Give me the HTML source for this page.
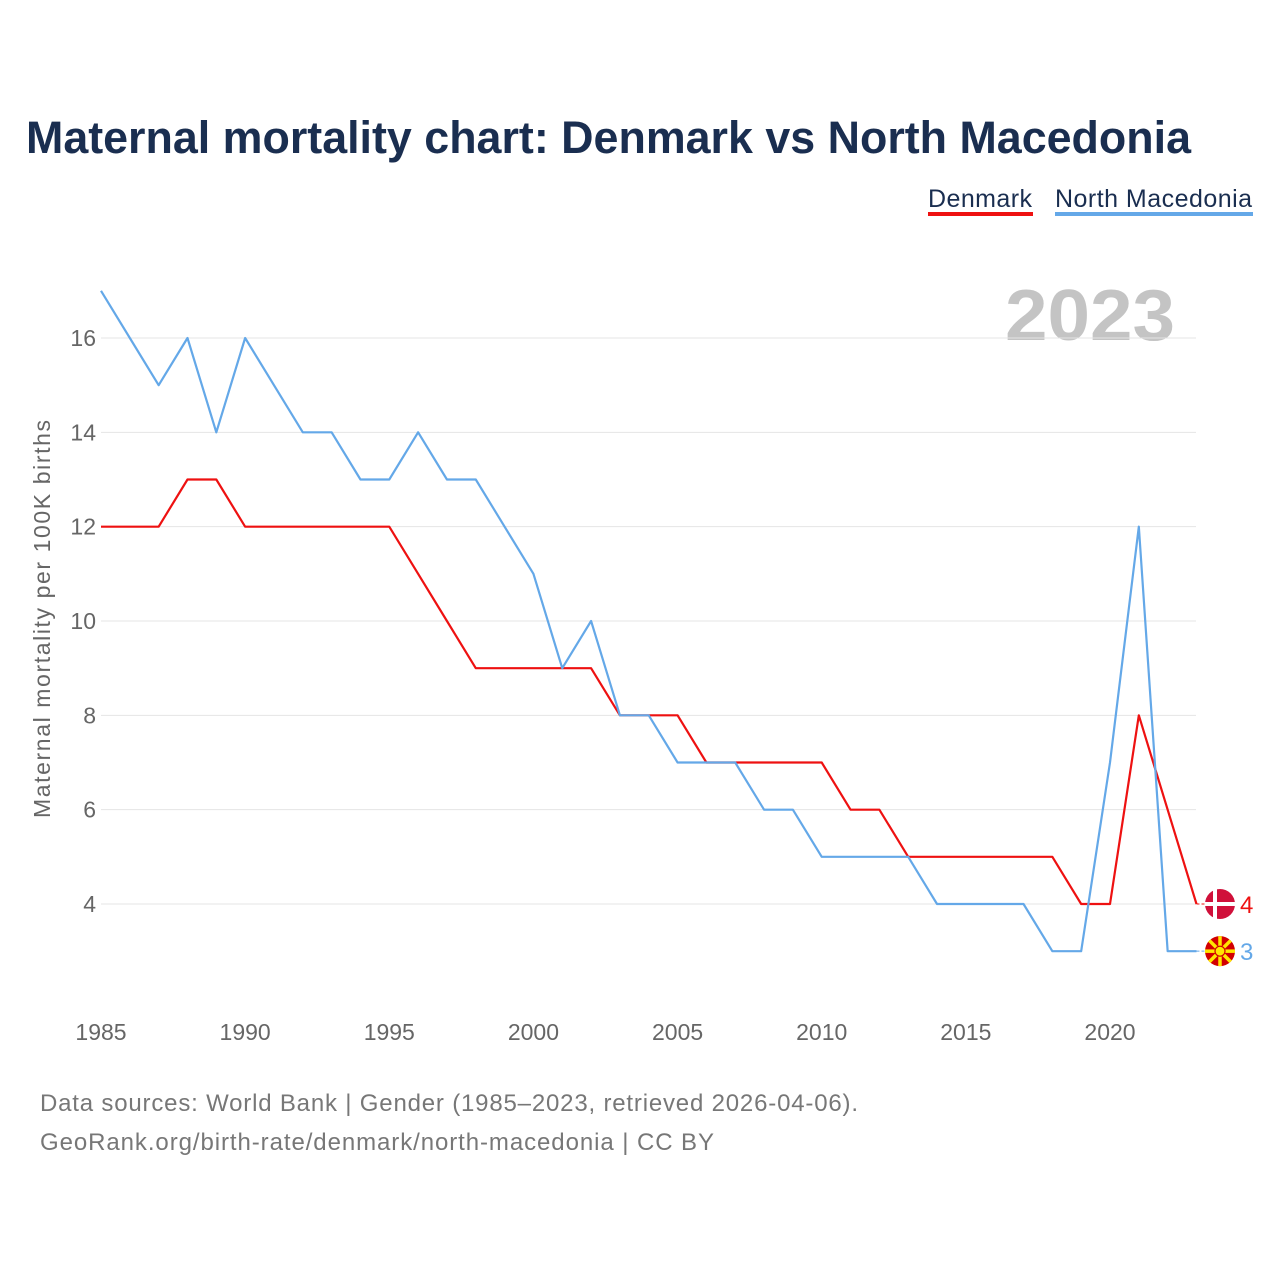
<!DOCTYPE html>
<html><head><meta charset="utf-8">
<style>
body{margin:0;background:#fff;font-family:"Liberation Sans",sans-serif;}
svg text{font-family:"Liberation Sans",sans-serif;}
</style></head>
<body>
<svg width="1280" height="1280" viewBox="0 0 1280 1280">
<rect width="1280" height="1280" fill="#fff"/>
<text x="26" y="153" font-size="45" font-weight="bold" fill="#1a2e50" textLength="1165" lengthAdjust="spacingAndGlyphs">Maternal mortality chart: Denmark vs North Macedonia</text>
<g>
<text x="928" y="207" font-size="25" fill="#1a2e50" textLength="104">Denmark</text>
<rect x="928" y="212" width="105" height="4" fill="#ee1111"/>
<text x="1055" y="207" font-size="25" fill="#1a2e50" textLength="197">North Macedonia</text>
<rect x="1055" y="212" width="198" height="4" fill="#64a8e8"/>
</g>
<text x="1005" y="340" font-size="72" font-weight="bold" fill="#c4c4c4" textLength="170" lengthAdjust="spacingAndGlyphs">2023</text>
<g id="grid"></g>
<g id="xt"></g>
<text transform="translate(50,619) rotate(-90)" font-size="23" fill="#666" text-anchor="middle" textLength="398">Maternal mortality per 100K births</text>
<g id="lines"></g>
<text x="40" y="1111" font-size="24" fill="#777" textLength="818">Data sources: World Bank | Gender (1985–2023, retrieved 2026-04-06).</text>
<text x="40" y="1150" font-size="24" fill="#777" textLength="674">GeoRank.org/birth-rate/denmark/north-macedonia | CC BY</text>
</svg>
<script>
const years=[];for(let y=1985;y<=2023;y++)years.push(y);
const denmark=[12,12,12,13,13,12,12,12,12,12,12,11,10,9,9,9,9,9,8,8,8,7,7,7,7,7,6,6,5,5,5,5,5,5,4,4,8,6,4];
const macedonia=[17,16,15,16,14,16,15,14,14,13,13,14,13,13,12,11,9,10,8,8,7,7,7,6,6,5,5,5,5,4,4,4,4,3,3,7,12,3,3];
const yTicks=[4,6,8,10,12,14,16];
const xTicks=[1985,1990,1995,2000,2005,2010,2015,2020];
const NS="http://www.w3.org/2000/svg";
const X=y=>101+(y-1985)*(1009/35);
const Y=v=>904-(v-4)*(566/12);
function mk(t,a,p){const e=document.createElementNS(NS,t);for(const k in a)e.setAttribute(k,a[k]);p.appendChild(e);return e;}
const grid=document.getElementById('grid');
yTicks.forEach(v=>{
 const l=mk('line',{x1:101,x2:1196,y1:Y(v),y2:Y(v),stroke:'#e4e4e4','stroke-width':1},grid);
 
 
 const t=mk('text',{x:96,y:Y(v)+8,'font-size':23,fill:'#666','text-anchor':'end'},grid);
 t.textContent=v;
 
 
});
const xt=document.getElementById('xt');
xTicks.forEach(v=>{
 const t=mk('text',{x:X(v),y:1040,'font-size':23,fill:'#666','text-anchor':'middle'},xt);
 t.textContent=v;
 
 
});
const lines=document.getElementById('lines');
function series(data,color,name){
 const p=mk('polyline',{points:data.map((v,i)=>X(years[i])+','+Y(v)).join(' '),fill:'none',stroke:color,'stroke-width':2.2,'stroke-linejoin':'round'},lines);
 
 
 const last=data[data.length-1],lx=X(years[years.length-1]),ly=Y(last);
 mk('line',{x1:lx,x2:lx+12,y1:ly,y2:ly,stroke:color,'stroke-width':1,'stroke-dasharray':'3,2'},lines);
 const t=mk('text',{x:1240,y:ly+9,'font-size':24,fill:color},lines);
 t.textContent=last;
 
 
 return ly;
}
const dy=series(denmark,'#ee1111','denmark');
const my=series(macedonia,'#64a8e8','north-macedonia');
const f1=mk('g',{},lines);


mk('circle',{cx:1220,cy:dy,r:15,fill:'#d0103a'},f1);
mk('rect',{x:1213,y:dy-15,width:4,height:30,fill:'#fff'},f1);
mk('rect',{x:1205,y:dy-2,width:30,height:4,fill:'#fff'},f1);
const f2=mk('g',{},lines);


mk('circle',{cx:1220,cy:my,r:15,fill:'#d20000'},f2);
for(let a=0;a<8;a++){const r=a*Math.PI/4;mk('line',{x1:1220,y1:my,x2:1220+15*Math.cos(r),y2:my+15*Math.sin(r),stroke:'#ffe600','stroke-width':3.5},f2);}
mk('circle',{cx:1220,cy:my,r:5,fill:'#ffe600',stroke:'#d20000','stroke-width':1.2},f2);
</script>
</body></html>
